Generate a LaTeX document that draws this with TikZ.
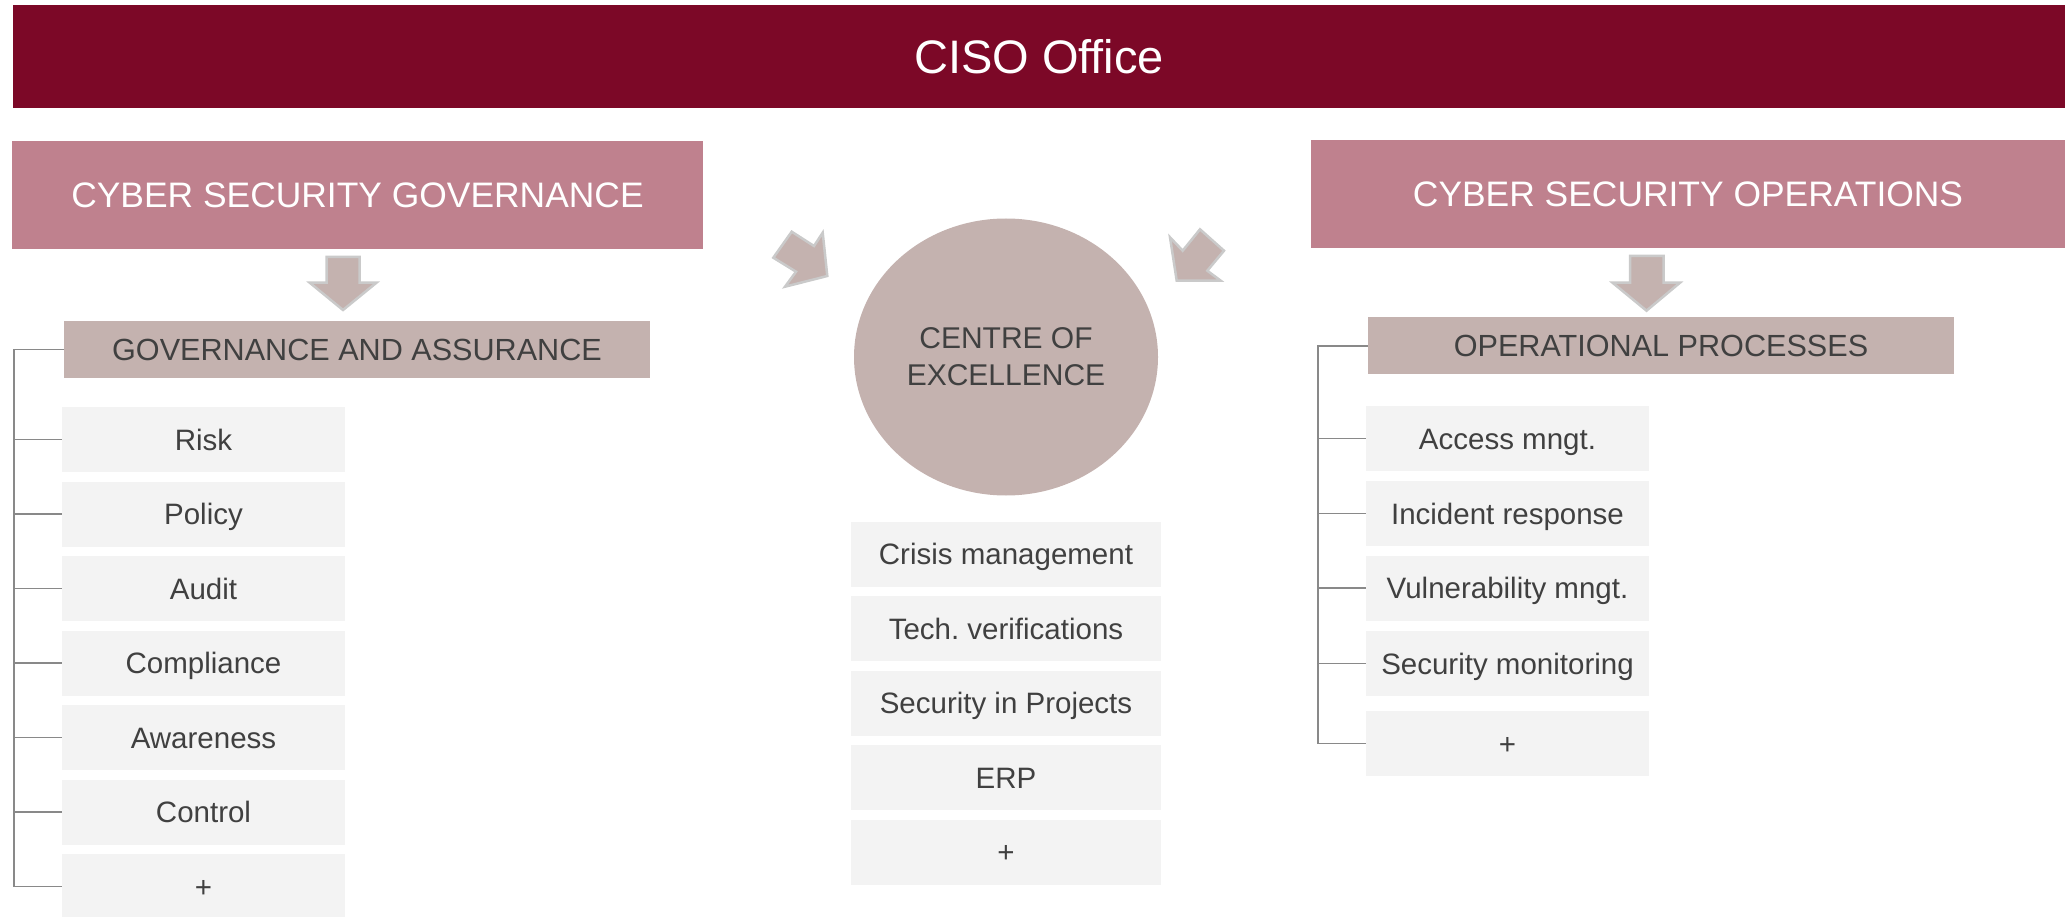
\documentclass[tikz,border=0pt]{standalone}
\usepackage{xcolor}
\usepackage{fontspec}
\setmainfont{Liberation Sans}
\usepackage{tikz}
\usetikzlibrary{positioning,shapes.geometric}

\definecolor{cisored}{RGB}{124,8,39}
\definecolor{headpink}{RGB}{191,129,142}
\definecolor{mauve}{RGB}{196,178,175}
\definecolor{itemgray}{RGB}{243,243,243}
\definecolor{textgray}{RGB}{64,64,64}
\definecolor{linegray}{RGB}{137,137,137}
\definecolor{arrowrim}{RGB}{202,202,202}

\begin{document}
\begin{tikzpicture}[x=1pt, y=-1pt,
  titlebar/.style={fill=cisored, text=white, minimum width=2052pt, minimum height=103pt, inner sep=0pt, font=\fontsize{47}{56}\selectfont},
  pillar/.style={fill=headpink, text=white, minimum height=108pt, inner sep=0pt, text height=25.3pt, text depth=0pt, font=\fontsize{35.4}{42}\selectfont},
  subhead/.style={fill=mauve, text=textgray, minimum width=586pt, minimum height=57pt, inner sep=0pt, text height=21.9pt, text depth=0pt, font=\fontsize{30.6}{37}\selectfont},
  itembox/.style={fill=itemgray, text=textgray, minimum width=283pt, minimum height=65pt, inner sep=0pt, text height=21.1pt, text depth=0pt, font=\fontsize{29.5}{35}\selectfont},
  tree/.style={draw=linegray, line width=1.6pt},
  blockarrow/.style={fill=mauve, draw=arrowrim, line width=2.5pt, line join=miter}]

\useasboundingbox (0,0) rectangle (2065,917);

% Title bar
\node[titlebar] (ciso) at (1039,56.5) {CISO Office};

% Pillars
\node[pillar, minimum width=691pt] (gov) at (357.5,195) {CYBER SECURITY GOVERNANCE};
\node[pillar, minimum width=754pt] (ops) at (1688,194) {CYBER SECURITY OPERATIONS};

% Down arrows under the pillars
\draw[blockarrow] (326.5,257) -- (359.7,257) -- (359.7,282.7) -- (376.5,282.7) -- (343,310) -- (309.7,282.7) -- (326.5,282.7) -- cycle;
\draw[blockarrow] (1630,256) -- (1663.5,256) -- (1663.5,282.7) -- (1680,282.7) -- (1646.5,310.7) -- (1612.5,282.7) -- (1630,282.7) -- cycle;

% Arrows into the centre
\draw[blockarrow] (773.3,257.7) -- (791.7,231.7) -- (814,246) -- (822.7,232.7) -- (827.3,276) -- (785,286.7) -- (796,271.7) -- cycle;
\draw[blockarrow] (1200,229.3) -- (1224,250.7) -- (1207.3,270.7) -- (1220.7,280.7) -- (1176.7,280.7) -- (1170,237.3) -- (1182.7,250.7) -- cycle;

% Sub headers
\node[subhead] (ga) at (357,349.5) {GOVERNANCE AND ASSURANCE};
\node[subhead] (op) at (1661,346) {OPERATIONAL PROCESSES};

% Centre of excellence
\node[ellipse, fill=mauve, text=textgray, minimum width=304pt, minimum height=277pt, inner sep=0pt, align=center, font=\fontsize{30}{37}\selectfont] (coe) at (1006,357) {CENTRE OF\\EXCELLENCE};

% Governance items
\foreach \txt [count=\i] in {Risk,Policy,Audit,Compliance,Awareness,Control,+}
  \node[itembox] (g\i) at (203.5,{439.5+74.5*(\i-1)}) {\txt};

% Centre items
\foreach \txt [count=\i] in {Crisis management,Tech.\ verifications,Security in Projects,ERP,+}
  \node[itembox, minimum width=310pt] (c\i) at (1006,{554+74.5*(\i-1)}) {\txt};

% Operations items
\foreach \txt/\yy [count=\i] in {Access mngt./438.5,Incident response/513.5,Vulnerability mngt./588,Security monitoring/663.5,+/743.5}
  \node[itembox] (o\i) at (1507.5,\yy) {\txt};

% Tree lines
\coordinate (trunkG) at (14,349.5);
\draw[tree] (ga.west) -- (trunkG) |- (g7.west);
\foreach \i in {1,...,6}
  \draw[tree] (trunkG |- g\i.west) -- (g\i.west);

\coordinate (trunkO) at (1318,346);
\draw[tree] (op.west) -- (trunkO) |- (o5.west);
\foreach \i in {1,...,4}
  \draw[tree] (trunkO |- o\i.west) -- (o\i.west);

\end{tikzpicture}
\end{document}
